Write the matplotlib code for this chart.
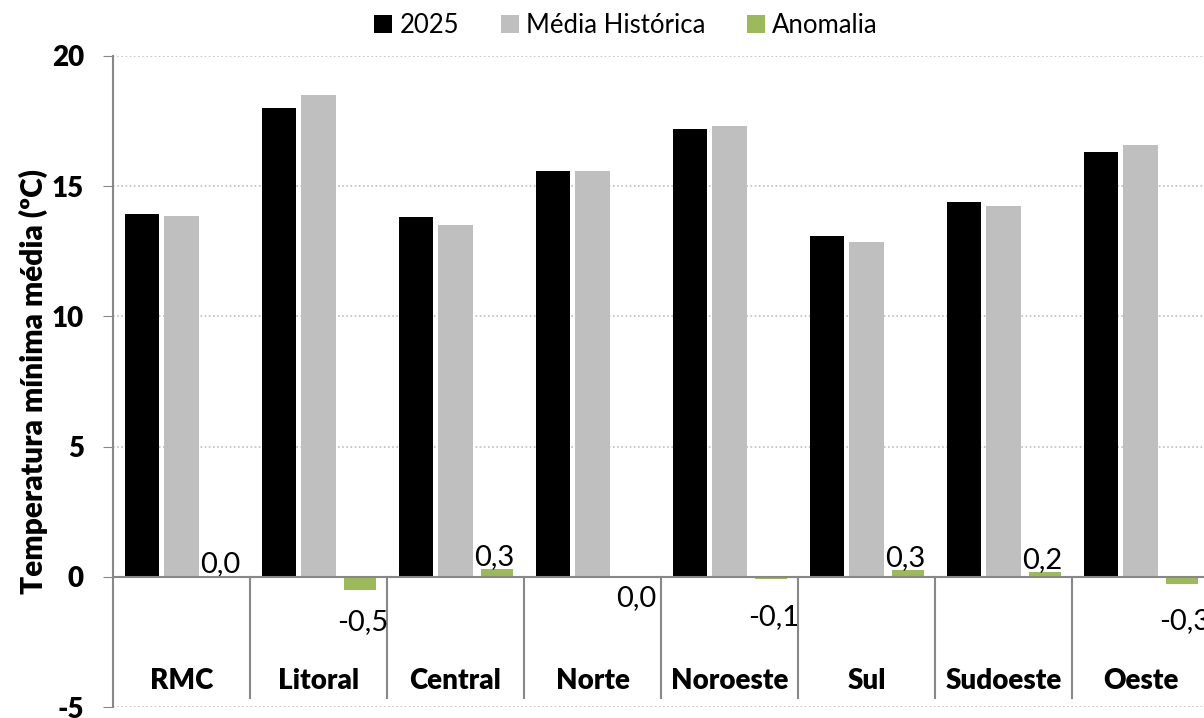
import matplotlib.pyplot as plt
import numpy as np

# Data
regioes = ['RMC', 'Litoral', 'Central', 'Norte', 'Noroeste', 'Sul', 'Sudoeste', 'Oeste']
temp_2025 = [13.95, 18.0, 13.8, 15.6, 17.2, 13.1, 14.4, 16.3]
media_historica = [13.87, 18.5, 13.5, 15.6, 17.3, 12.85, 14.25, 16.6]
anomalia = [0.03, -0.5, 0.3, -0.04, -0.1, 0.27, 0.2, -0.26]

plt.rcParams['font.family'] = ['Lato', 'DejaVu Sans']

fig = plt.figure(figsize=(12.04, 7.18), dpi=100)
ax = fig.add_axes([113 / 1204, 11 / 718, 1096 / 1204, 651 / 718])

x = np.arange(len(regioes))
w = 0.25
ax.bar(x - 0.29, temp_2025, w, color='black', label='2025', zorder=3)
ax.bar(x, media_historica, w, color='#bfbfbf', label='Média Histórica', zorder=3)
bars = ax.bar(x + 0.30, anomalia, 0.235, color='#9bbb59', label='Anomalia', zorder=3)

# anomaly labels (negative ones were dragged down in the original)
neg_drop = {1: 1.75, 3: 0.8, 4: 1.55, 7: 1.7}
for i, (b, v) in enumerate(zip(bars, anomalia)):
    s = f'{v:.1f}'
    if s == '-0.0':
        s = '0.0'
    s = s.replace('.', ',')
    cx = b.get_x() + b.get_width() / 2
    if v >= 0:
        ax.annotate(s, (cx, v), xytext=(-2, -1), textcoords='offset points',
                    ha='center', va='bottom', fontsize=21, zorder=4)
    else:
        ax.text(cx + 0.02, -neg_drop[i], s, ha='center', va='center', fontsize=21, zorder=4)

ax.set_xlim(-0.5, len(regioes) - 0.5)
ax.set_ylim(-5, 20)
ax.set_yticks([-5, 0, 5, 10, 15, 20])
ax.set_yticklabels(['-5', '0', '5', '10', '15', '20'], fontsize=20, fontweight='heavy',
                   va='center_baseline')
ax.tick_params(axis='y', length=7, color='#888888', pad=14)
ax.set_xticks([])

for yv in [-5, 5, 10, 15, 20]:
    ax.axhline(yv, color='#bfbfbf', linestyle=(0, (1, 1.5)), linewidth=1.2, zorder=1)
ax.axhline(0, color='#888888', linewidth=1.5, zorder=4)

# category separators and labels below zero
for k in range(1, len(regioes)):
    ax.plot([k - 0.5, k - 0.5], [0, -4.65], color='#888888', linewidth=1.5, zorder=2)
for k, r in enumerate(regioes):
    ax.text(k, -4.0, r, ha='center', va='center', fontsize=20, fontweight='heavy')

for s in ['top', 'right', 'bottom']:
    ax.spines[s].set_visible(False)
ax.spines['left'].set_color('#888888')
ax.spines['left'].set_linewidth(1.5)

ax.set_ylabel('Temperatura mínima média (ºC)', fontsize=21.5, fontweight='heavy', labelpad=3)

fig.legend(loc='upper center', bbox_to_anchor=(0.52, 1.014), ncol=3, frameon=False,
           fontsize=18.5, handlelength=0.7, handleheight=0.7, handletextpad=0.3, columnspacing=1.6)

fig.savefig('out.png', dpi=100)
